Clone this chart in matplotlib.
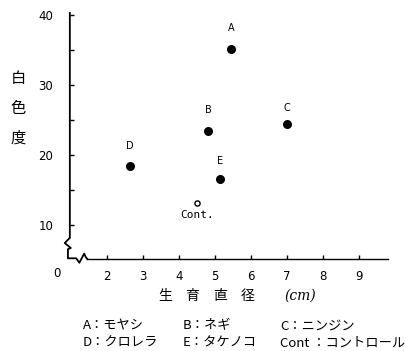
import matplotlib
matplotlib.use("Agg")
import matplotlib.pyplot as plt

plt.rcParams['font.family'] = ['Noto Sans CJK JP', 'DejaVu Sans']

# data
labels = ['A', 'B', 'C', 'D', 'E']
diam = [5.45, 4.8, 7.0, 2.64, 5.14]       # 生育直径 (cm)
white = [35.1, 23.5, 24.4, 18.4, 16.6]    # 白色度
cont_diam = 4.5
cont_white = 13.2

xticks = [2, 3, 4, 5, 6, 7, 8, 9]
yticks = [10, 20, 30, 40]
yminor = [15, 25, 35]

legend_rows = [
    ['A：モヤシ', 'B：ネギ', 'C：ニンジン'],
    ['D：クロレラ', 'E：タケノコ', 'Cont ：コントロール'],
]

fig = plt.figure(figsize=(4.06, 3.51), dpi=100)
ax = fig.add_axes([0.172, 0.262, 0.784, 0.701])
ax.set_xlim(0.97, 9.8)
ax.set_ylim(5.14, 40.3)
for s in ax.spines.values():
    s.set_visible(False)

# axis lines with break marks (axes fraction)
k = dict(color='black', lw=1.3, transform=ax.transAxes, clip_on=False)
ax.plot([0, 0, -0.016, 0.003, -0.006, -0.006, 0.02, 0.03, 0.045, 0.05, 0.055],
        [1.0, 0.086, 0.065, 0.045, 0.04, 0.003, 0.003, -0.015, 0.022, 0.008, 0.0], **k)
ax.plot([0.055, 1.0], [0.0, 0.0], color='black', lw=1.0,
        transform=ax.transAxes, clip_on=False)

ax.set_xticks(xticks)
ax.set_yticks(yticks)
ax.set_yticks(yminor, minor=True)
ax.tick_params(axis='both', which='both', direction='in', length=3, width=1,
               labelsize=8.5, pad=8)
ax.tick_params(axis='y', pad=12)
for t in ax.get_xticklabels() + ax.get_yticklabels():
    t.set_family('DejaVu Sans')
ax.text(-0.04, -0.06, '0', transform=ax.transAxes, fontsize=8.5,
        family='DejaVu Sans', ha='center', va='center')

ax.scatter(diam, white, s=30, color='black', zorder=3)
ax.scatter([cont_diam], [cont_white], s=14, facecolor='white',
           edgecolor='black', linewidth=1, zorder=3)

offs = [12, 11, 8, 11, 9]
for lab, x, y, o in zip(labels, diam, white, offs):
    ax.annotate(lab, (x, y), xytext=(0, o), textcoords='offset points',
                ha='center', va='bottom', fontsize=7, family='DejaVu Sans')
ax.annotate('Cont.', (cont_diam, cont_white), xytext=(0, -5),
            textcoords='offset points', ha='center', va='top', fontsize=8,
            family='DejaVu Sans Mono')

# y label stacked vertically
fig.text(18 / 406, 1 - 108 / 351, '白\n色\n度', ha='center', va='center',
         fontsize=11, linespacing=2.0)

# x label
for ch, px in zip('生育直径', [165, 192, 220, 248]):
    fig.text(px / 406, 1 - 296 / 351, ch, ha='center', va='center', fontsize=10)
fig.text(300 / 406, 1 - 296 / 351, '(cm)', ha='center', va='center',
         fontsize=10, style='italic', family='DejaVu Serif')

# legend text
cols = [83, 183, 280]
for row, py in zip(legend_rows, [326, 343]):
    for txt, px in zip(row, cols):
        fig.text(px / 406, 1 - py / 351, txt, ha='left', va='center', fontsize=9.5)

fig.savefig('out.png', dpi=100)
